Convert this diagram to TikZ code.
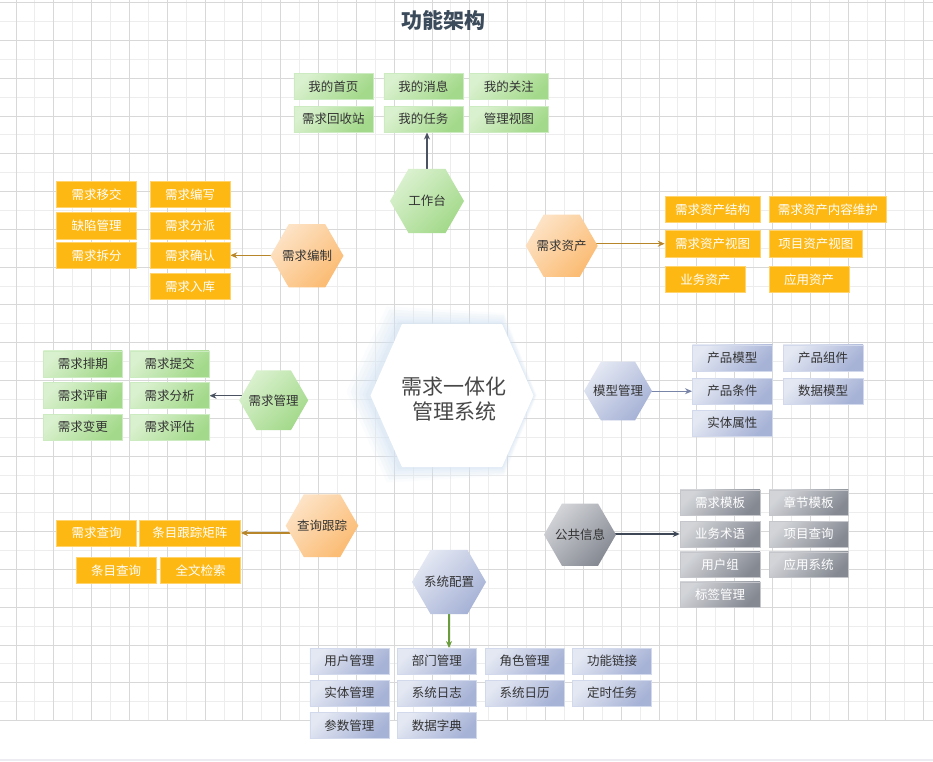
\documentclass[tikz,border=0pt]{standalone}
\usepackage{fontspec}
\setmainfont{Noto Sans CJK SC}
\newfontfamily\songti{Noto Sans CJK SC}
\usetikzlibrary{shapes.geometric,arrows.meta,calc}
\pgfdeclarelayer{grid}
\pgfdeclarelayer{links}
\pgfsetlayers{grid,links,main}
\definecolor{gridmin}{HTML}{EDEDED}
\definecolor{gridmaj}{HTML}{D8D8D8}
\definecolor{StripC}{HTML}{ECECF2}
\definecolor{TxtD}{HTML}{333333}
\definecolor{TitleC}{HTML}{3B4B5B}
\definecolor{CoreTxt}{HTML}{484848}
\definecolor{GlowC}{HTML}{D6E3F4}
\definecolor{GreenL}{HTML}{DAF1CF}
\definecolor{GreenD}{HTML}{A3D98A}
\definecolor{GreenB}{HTML}{CDEBC0}
\definecolor{Orng}{HTML}{FDB813}
\definecolor{OrngB}{HTML}{FFD36E}
\definecolor{OrngL}{HTML}{FDE3C6}
\definecolor{OrngD}{HTML}{FBBB72}
\definecolor{BlueL}{HTML}{E4E8F3}
\definecolor{BlueD}{HTML}{A6B2D6}
\definecolor{BlueB}{HTML}{D2D9EC}
\definecolor{GrayL}{HTML}{D2D4D8}
\definecolor{GrayD}{HTML}{858992}
\definecolor{GrayB}{HTML}{C4C6CB}
\definecolor{ArrDark}{HTML}{4B5262}
\definecolor{ArrGold}{HTML}{B8862A}
\definecolor{ArrBlue}{HTML}{7885A8}
\definecolor{ArrGreen}{HTML}{6A9C3C}
\definecolor{ArrDarkB}{HTML}{3E4756}
\tikzset{
  box/.style={rectangle, minimum width=79pt, minimum height=26pt, inner sep=0pt,
    font=\fontsize{12.5}{15}\selectfont, line width=0.6pt},
  gbox/.style={box, top color=GreenL, bottom color=GreenD, shading angle=45, draw=GreenB, text=TxtD},
  obox/.style={box, fill=Orng, draw=OrngB, text=white},
  bbox/.style={box, top color=BlueL, bottom color=BlueD, shading angle=45, draw=BlueB, text=TxtD},
  kbox/.style={box, top color=GrayL, bottom color=GrayD, shading angle=45, draw=GrayB, text=white},
  hexlbl/.style={font=\fontsize{12.5}{15}\selectfont, text=TxtD, inner sep=0pt},
  hex/.style={regular polygon, regular polygon sides=6, inner sep=0pt, minimum size=72pt},
  ghex/.style={hex, top color=GreenL, bottom color=GreenD, shading angle=45},
  ohex/.style={hex, top color=OrngL, bottom color=OrngD, shading angle=45},
  bhex/.style={hex, top color=BlueL, bottom color=BlueD, shading angle=45},
  khex/.style={hex, top color=GrayL, bottom color=GrayD, shading angle=45},
  link/.style={line width=1.1pt, -{Stealth[length=7pt,width=6pt]}},
}
\begin{document}
\begin{tikzpicture}[x=1pt,y=-1pt]
\useasboundingbox (0,0) rectangle (933,761);
% ---------- background grid ----------
\begin{pgfonlayer}{grid}
\fill[white] (0,0) rectangle (933,761);
\foreach \k in {1,3,...,47} {\draw[gridmin,line width=0.9pt] ({16+\k*18.91},0) -- ({16+\k*18.91},720.3);}
\foreach \k in {1,3,...,37} {\draw[gridmin,line width=0.9pt] (0,{2.7+\k*18.89}) -- (933,{2.7+\k*18.89});}
\foreach \k in {0,2,...,48} {\draw[gridmaj,line width=0.9pt] ({16+\k*18.91},0) -- ({16+\k*18.91},720.3);}
\foreach \k in {0,2,...,38} {\draw[gridmaj,line width=0.9pt] (0,{2.7+\k*18.89}) -- (933,{2.7+\k*18.89});}
\fill[StripC] (0,758.5) rectangle (933,761);
\end{pgfonlayer}

% ---------- title ----------
\node[font=\songti\bfseries\fontsize{21}{24}\selectfont, text=TitleC] (title) at (443,20.5) {功能架构};

% ---------- centre ----------
\foreach \e/\o in {22/0.10,18/0.12,14/0.14,10/0.16,6/0.2,3/0.25} {
  \fill[GlowC, opacity=\o] ({370.5-\e-2},{395.5-\e*0.2}) -- ({402-\e*0.6-2},{324-\e*0.8}) -- ({502+\e*0.1},{324-\e*0.5})
    -- ({533.5+\e*0.15},395.5) -- ({502+\e*0.1},{467+\e*0.4}) -- ({402-\e*0.6-2},{467+\e*0.7}) -- cycle;
}
\fill[white] (370.5,395.5) -- (402,324) -- (502,324) -- (533.5,395.5) -- (502,467) -- (402,467) -- cycle;
\node[align=center, font=\songti\fontsize{21}{25.7}\selectfont, text=CoreTxt] (core) at (454,399) {需求一体化\\管理系统};

% ---------- 工作台 ----------
\node[gbox] (sy1) at (333.3,86.3) {我的首页};
\node[gbox] (xx1) at (423.3,86.3) {我的消息};
\node[gbox] (gz1) at (508.8,86.3) {我的关注};
\node[gbox] (hs1) at (333.3,119.2) {需求回收站};
\node[gbox] (task) at (423.3,119.2) {我的任务};
\node[gbox] (st1) at (508.8,119.2) {管理视图};
\node[ghex, minimum size=74pt, label={[hexlbl]center:工作台}] (gzt) at (427,201) {};

% ---------- 需求编制 ----------
\node[obox, minimum width=80pt, minimum height=26.7pt] (yj) at (96.7,194.3) {需求移交};
\node[obox, minimum width=80pt, minimum height=26.7pt] (qx) at (96.7,225.7) {缺陷管理};
\node[obox, minimum width=80pt, minimum height=26.7pt] (cf) at (96.7,255.3) {需求拆分};
\node[obox, minimum width=80pt, minimum height=26.7pt] (bx) at (190,194.3) {需求编写};
\node[obox, minimum width=80pt, minimum height=26.7pt] (fp) at (190,225.7) {需求分派};
\node[obox, minimum width=80pt, minimum height=26.7pt] (qr) at (190,255.3) {需求确认};
\node[obox, minimum width=80pt, minimum height=26.7pt] (rk) at (190,286.3) {需求入库};
\node[ohex, minimum size=73pt, label={[hexlbl]center:需求编制}] (bz) at (307,255.8) {};

% ---------- 需求资产 ----------
\node[obox, minimum width=95pt, minimum height=26.7pt] (zcjg) at (712.5,209.3) {需求资产结构};
\node[obox, minimum width=117.7pt, minimum height=26.7pt] (zcwh) at (827.8,209.3) {需求资产内容维护};
\node[obox, minimum width=95pt, minimum height=26.7pt] (zcst) at (712.5,243.7) {需求资产视图};
\node[obox, minimum width=93.7pt, minimum height=26.7pt] (xmst) at (815.8,243.7) {项目资产视图};
\node[obox, minimum width=80.7pt, minimum height=26.7pt] (ywzc) at (705.3,279.3) {业务资产};
\node[obox, minimum width=80.3pt, minimum height=26.7pt] (yyzc) at (809.2,279.3) {应用资产};
\node[ohex, minimum size=72pt, label={[hexlbl]center:需求资产}] (zc) at (561.7,245.8) {};

% ---------- 需求管理 ----------
\node[gbox] (pq) at (82.8,363.8) {需求排期};
\node[gbox] (tj) at (169.7,363.8) {需求提交};
\node[gbox] (ps) at (82.8,395.7) {需求评审};
\node[gbox] (fx) at (169.7,395.7) {需求分析};
\node[gbox] (bg) at (82.8,427) {需求变更};
\node[gbox] (pg) at (169.7,427) {需求评估};
\node[ghex, minimum size=69pt, label={[hexlbl]center:需求管理}] (gl) at (273.7,400.3) {};

% ---------- 模型管理 ----------
\node[bbox, minimum width=80pt] (cpmx) at (732.3,357.8) {产品模型};
\node[bbox, minimum width=80pt] (cpzj) at (823,357.8) {产品组件};
\node[bbox, minimum width=80pt] (cptj) at (732.3,391.2) {产品条件};
\node[bbox, minimum width=80pt] (sjmx) at (823,391.2) {数据模型};
\node[bbox, minimum width=80pt] (stsx) at (732.3,423) {实体属性};
\node[bhex, minimum size=68pt, label={[hexlbl]center:模型管理}] (mx) at (618,391) {};

% ---------- 查询跟踪 ----------
\node[obox, minimum width=80pt] (xqcx) at (96.7,533) {需求查询};
\node[obox, minimum width=101.7pt] (tm) at (189.8,533) {条目跟踪矩阵};
\node[obox, minimum width=80pt] (tmcx) at (116,570.3) {条目查询};
\node[obox, minimum width=80pt] (qwjs) at (200.7,570.3) {全文检索};
\node[ohex, minimum size=72.6pt, label={[hexlbl]center:查询跟踪}] (cx) at (322,525.7) {};

% ---------- 公共信息 ----------
\node[kbox, minimum width=80pt, minimum height=25.7pt] (xqmb) at (720,502.8) {需求模板};
\node[kbox, minimum width=79.3pt, minimum height=25.7pt] (zjmb) at (808.7,502.8) {章节模板};
\node[kbox, minimum width=80pt, minimum height=25.7pt] (ywsy) at (720,534) {业务术语};
\node[kbox, minimum width=79.3pt, minimum height=25.7pt] (xmcx) at (808.7,534) {项目查询};
\node[kbox, minimum width=80pt, minimum height=25.7pt] (yhz) at (720,564.7) {用户组};
\node[kbox, minimum width=79.3pt, minimum height=25.7pt] (yyxt) at (808.7,564.7) {应用系统};
\node[kbox, minimum width=80pt, minimum height=25.7pt] (bqgl) at (720,594.7) {标签管理};
\node[khex, minimum size=72pt, label={[hexlbl]center:公共信息}] (gg) at (580,534.7) {};

% ---------- 系统配置 ----------
\node[bbox, minimum height=25.7pt] (yhgl) at (349.3,661.2) {用户管理};
\node[bbox, minimum height=25.7pt] (bm) at (436.8,661.2) {部门管理};
\node[bbox, minimum height=25.7pt] (jsgl) at (524.7,661.2) {角色管理};
\node[bbox, minimum height=25.7pt] (gnlj) at (612.2,661.2) {功能链接};
\node[bbox, minimum height=25.7pt] (stgl) at (349.3,693) {实体管理};
\node[bbox, minimum height=25.7pt] (xtrz) at (436.8,693) {系统日志};
\node[bbox, minimum height=25.7pt] (xtrl) at (524.7,693) {系统日历};
\node[bbox, minimum height=25.7pt] (dsrw) at (612.2,693) {定时任务};
\node[bbox, minimum height=25.7pt] (csgl) at (349.3,725.3) {参数管理};
\node[bbox, minimum height=25.7pt] (sjzd) at (436.8,725.3) {数据字典};
\node[bhex, minimum size=74pt, label={[hexlbl]center:系统配置}] (pz) at (449,582) {};

% ---------- connectors ----------
\begin{pgfonlayer}{links}
\draw[link, ArrDark] (gzt.center) -- (gzt.center |- task.south);
\draw[link, ArrGold] (bz.center |- qr.east) -- (qr.east);
\draw[link, ArrGold] (zc.center |- zcst.west) -- (zcst.west);
\draw[link, ArrDark] (gl.center |- fx.east) -- (fx.east);
\draw[link, ArrBlue] (mx.center |- cptj.west) -- (cptj.west);
\draw[link, ArrGold] (cx.center |- tm.east) -- (tm.east);
\draw[link, ArrDarkB] (gg.center |- ywsy.west) -- (ywsy.west);
\draw[link, ArrGreen] (pz.center) -- (pz.center |- bm.north);
\end{pgfonlayer}
\end{tikzpicture}
\end{document}
